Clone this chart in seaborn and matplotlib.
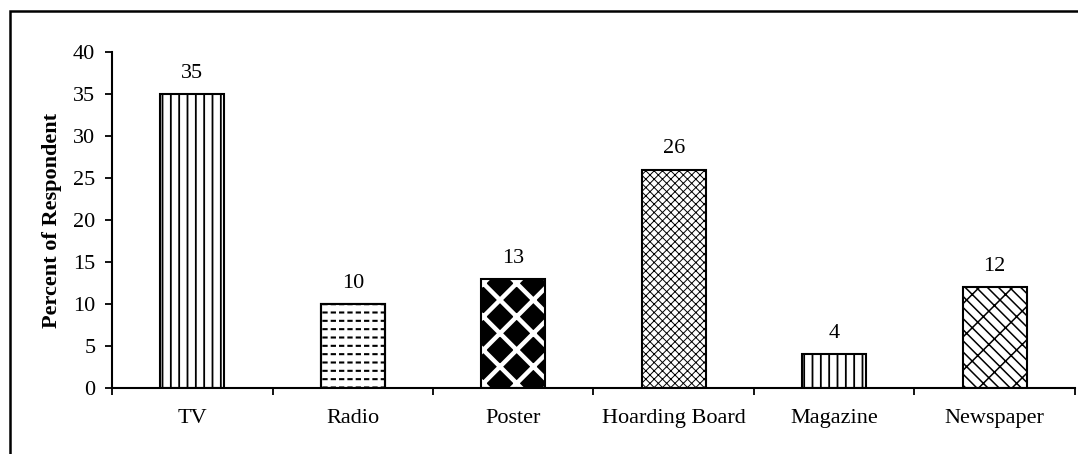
import numpy as np
import pandas as pd
import matplotlib
matplotlib.use("Agg")
import matplotlib.pyplot as plt
from matplotlib.patches import Rectangle
import seaborn as sns

# Survey results: preferred advertising media
media = ["TV", "Radio", "Poster", "Hoarding Board", "Magazine", "Newspaper"]
percent = [35, 10, 13, 26, 4, 12]
y_ticks = [0, 5, 10, 15, 20, 25, 30, 35, 40]

FS = 16

sns.set_theme(style="white")
plt.rcParams["font.family"] = ["Liberation Serif", "DejaVu Serif"]
plt.rcParams["hatch.color"] = "black"
plt.rcParams["hatch.linewidth"] = 1.0

df = pd.DataFrame({"media": media, "percent": percent})

fig = plt.figure(figsize=(10.78, 4.54), dpi=100)
ax = fig.add_axes([0.1039, 0.1454, 0.8933, 0.7401])

sns.barplot(data=df, x="media", y="percent", ax=ax, color="white",
            width=0.4, edgecolor="black", linewidth=1.5, saturation=1)
bars = list(ax.patches)


def set_hw(patch, w):
    if hasattr(patch, "set_hatch_linewidth"):
        patch.set_hatch_linewidth(w)


def overlay(bar, hatch, color, width, z):
    """Second texture layer on top of a bar, sharing its geometry."""
    p = Rectangle(bar.get_xy(), bar.get_width(), bar.get_height(),
                  fill=False, edgecolor=color, linewidth=0, hatch=hatch,
                  zorder=z)
    set_hw(p, width)
    ax.add_patch(p)
    return p


def outline(bar, z):
    ax.add_patch(Rectangle(bar.get_xy(), bar.get_width(), bar.get_height(),
                           fill=False, edgecolor="black", linewidth=1.5,
                           zorder=z))


for b in bars:
    b.set_facecolor("white")

# TV and Magazine: vertical stripes
for i in (0, 4):
    bars[i].set_hatch("||")
    set_hw(bars[i], 1.3)

# Radio: rows of short dashes (lines broken by white gaps)
bars[1].set_hatch("--")
set_hw(bars[1], 1.5)
overlay(bars[1], "||", "white", 2.2, 3)
outline(bars[1], 4)

# Poster: black diamonds
bars[2].set_facecolor("black")
bars[2].set_hatch("x")
bars[2]._hatch_color = (1.0, 1.0, 1.0, 1.0)
set_hw(bars[2], 3.2)

# Hoarding board: fine wavy texture
bars[3].set_hatch("xxxx")
set_hw(bars[3], 0.7)

# Newspaper: slanted scale pattern
bars[5].set_hatch("x\\\\")
set_hw(bars[5], 1.1)

# value labels above bars
for bar, v in zip(bars, percent):
    ax.annotate(f"{v}", (bar.get_x() + bar.get_width() / 2, v),
                xytext=(0, 8), textcoords="offset points",
                ha="center", va="bottom", fontsize=FS, color="black",
                zorder=5)

ax.set_ylim(0, 40)
ax.set_yticks(y_ticks)
ax.set_xlim(-0.5, len(media) - 0.5)

# category boundaries carry the tick marks, names sit between them
ax.set_xticks(np.arange(-0.5, len(media), 1.0))
ax.set_xticklabels([])
ax.set_xticks(np.arange(len(media)), minor=True)
ax.set_xticklabels(media, minor=True)
ax.tick_params(axis="x", which="major", direction="out", length=5, width=1.3,
               color="black", bottom=True)
ax.tick_params(axis="x", which="minor", length=0, pad=15, labelsize=FS,
               labelcolor="black")
ax.tick_params(axis="y", direction="out", length=5, width=1.3, color="black",
               left=True, labelsize=FS, labelcolor="black", pad=7)

ax.set_xlabel("")
ax.set_ylabel("Percent of Respondent", fontsize=FS, fontweight="bold",
              color="black", labelpad=8)

sns.despine(ax=ax)
for side in ("left", "bottom"):
    ax.spines[side].set_color("black")
    ax.spines[side].set_linewidth(1.5)
    ax.spines[side].set_zorder(6)

# chart-area frame (open towards the right and bottom edges)
fig.patches.append(Rectangle((10 / 1078, -0.2), 1.2, 1 - 11 / 454 + 0.2,
                             transform=fig.transFigure, fill=False,
                             edgecolor="black", linewidth=1.8, clip_on=False))

fig.savefig("out.png", dpi=100)
